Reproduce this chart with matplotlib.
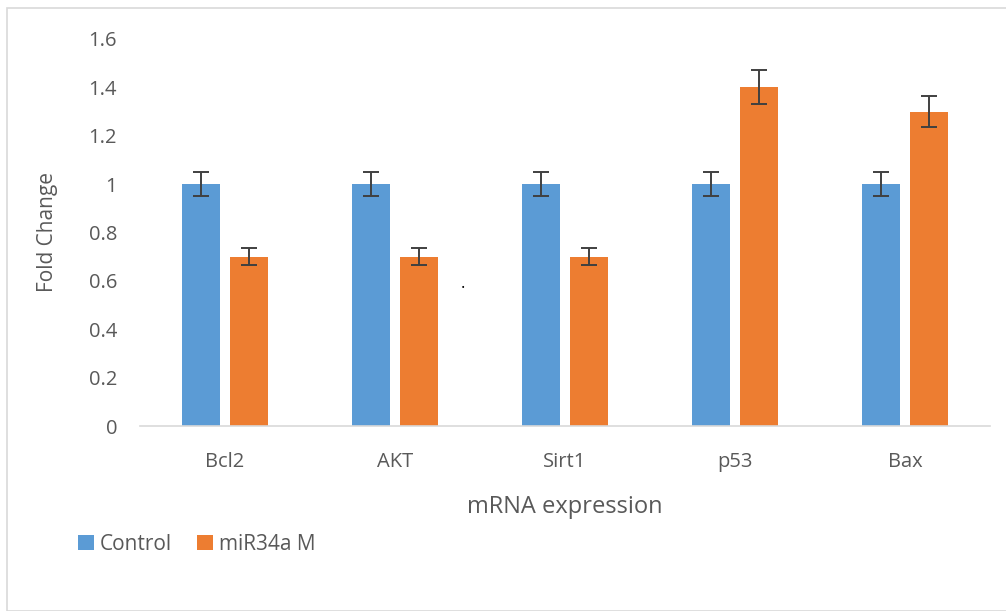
#!/usr/bin/env python3

"""Fold change of mRNA expression, control vs miR34a M (grouped bars)"""

import numpy as np
import matplotlib
matplotlib.use("Agg")
import matplotlib.pyplot as plt
from matplotlib.patches import Rectangle

# Data
genes = ["Bcl2", "AKT", "Sirt1", "p53", "Bax"]
control = [1.0, 1.0, 1.0, 1.0, 1.0]
control_err = [0.05, 0.05, 0.05, 0.05, 0.05]
mir34a = [0.7, 0.7, 0.7, 1.4, 1.3]
mir34a_err = [0.035, 0.035, 0.035, 0.07, 0.065]
yticks = [0, 0.2, 0.4, 0.6, 0.8, 1, 1.2, 1.4, 1.6]
ytick_labels = ["0", "0.2", "0.4", "0.6", "0.8", "1", "1.2", "1.4", "1.6"]

blue = "#5B9BD5"
orange = "#ED7D31"
txt = "#595959"

plt.rcParams['font.family'] = ['Open Sans', 'DejaVu Sans']

W, H = 1006, 611
fig = plt.figure(figsize=(W / 100, H / 100), dpi=100)

# light outer frame like the chart area border
fig.patches.append(Rectangle((7 / W, 0), 1.2, (H - 8) / H, transform=fig.transFigure,
                             fill=False, edgecolor="#d9d9d9", lw=1.2))

ax = fig.add_axes([140 / W, (H - 426) / H, 850 / W, (426 - 39) / H])

x = np.arange(len(genes))
bw = 0.224
off = 0.142
err_kw = dict(ecolor="#404040", elinewidth=1.4, capsize=5.5, capthick=1.4)
ax.bar(x - off, control, bw, color=blue, yerr=control_err, error_kw=err_kw, label="Control")
ax.bar(x + off, mir34a, bw, color=orange, yerr=mir34a_err, error_kw=err_kw, label="miR34a M")

ax.set_xlim(-0.5, len(genes) - 0.5)
ax.set_ylim(0, 1.6)
ax.set_yticks(yticks)
ax.set_yticklabels(ytick_labels)
ax.set_xticks(x)
ax.set_xticklabels(genes)

for s in ["top", "right", "left"]:
    ax.spines[s].set_visible(False)
ax.spines["bottom"].set_color("#d9d9d9")
ax.spines["bottom"].set_linewidth(1.2)
ax.tick_params(axis="both", length=0, labelsize=14.5, colors=txt)
ax.tick_params(axis="y", pad=16.5)
ax.tick_params(axis="x", pad=19)

ax.set_xlabel("mRNA expression", fontsize=17, color=txt, labelpad=16)
ax.set_ylabel("Fold Change", fontsize=15, color=txt)
ax.yaxis.set_label_coords(-82 / 850, 0.5)

leg = fig.legend(loc="center left", bbox_to_anchor=(70 / W, (H - 544) / H), ncol=2,
                 frameon=False, fontsize=15, handlelength=0.75, handleheight=0.75,
                 handletextpad=0.3, columnspacing=1.2, borderaxespad=0)
for t in leg.get_texts():
    t.set_color(txt)

# stray dot in the original image
fig.text(463 / W, (H - 289) / H, "\u00b7", fontsize=12, color="black", ha="center", va="center")

fig.savefig("out.png", dpi=100)
